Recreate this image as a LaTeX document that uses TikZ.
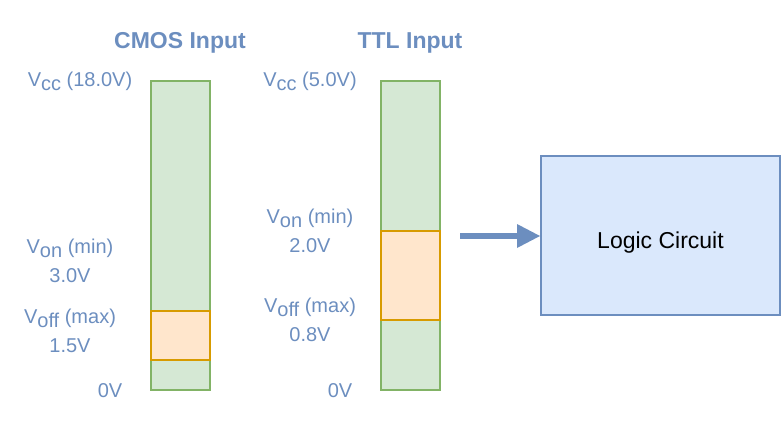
\documentclass[tikz,border=0pt]{standalone}
\usepackage{fontspec}
\setmainfont{Liberation Sans}
\usetikzlibrary{arrows.meta}
\definecolor{lvltext}{HTML}{6C8EBF}
\definecolor{highfill}{HTML}{D5E8D4}
\definecolor{highline}{HTML}{82B366}
\definecolor{bandfill}{HTML}{FFE6CC}
\definecolor{bandline}{HTML}{D79B00}
\definecolor{boxfill}{HTML}{DAE8FC}
\newcommand{\lvlsub}[1]{\raisebox{-4.5pt}{#1}}
\begin{document}
\begin{tikzpicture}[x=1pt,y=-1pt,
  lbl/.style={text=lvltext,font=\fontsize{20}{29}\selectfont,align=center,anchor=base,inner sep=0pt},
  title/.style={text=lvltext,font=\fontsize{23}{26}\selectfont\bfseries,anchor=base,inner sep=0pt},
  high/.style={fill=highfill,draw=highline,line width=2pt},
  band/.style={fill=bandfill,draw=bandline,line width=2pt}]
  \useasboundingbox (0,0) rectangle (782,431);
  % CMOS levels
  \node[title] (cmos) at (180,48) {CMOS Input};
  \draw[high] (151,81) rectangle (210,390);
  \draw[band] (151,311) rectangle (210,360);
  \node[lbl] (cmosvcc)  at (80,86)  {V\lvlsub{cc} (18.0V)};
  \node[lbl] (cmosvon)  at (70,282) {V\lvlsub{on} (min)\\3.0V};
  \node[lbl] (cmosvoff) at (70,352) {V\lvlsub{off} (max)\\1.5V};
  \node[lbl] (cmoszero) at (110,397) {0V};
  % TTL levels
  \node[title] (ttl) at (410,48) {TTL Input};
  \draw[high] (381,81) rectangle (440,390);
  \draw[band] (381,231) rectangle (440,320);
  \node[lbl] (ttlvcc)  at (310,86)  {V\lvlsub{cc} (5.0V)};
  \node[lbl] (ttlvon)  at (310,252) {V\lvlsub{on} (min)\\2.0V};
  \node[lbl] (ttlvoff) at (310,341) {V\lvlsub{off} (max)\\0.8V};
  \node[lbl] (ttlzero) at (340,397) {0V};
  % circuit
  \node[draw=lvltext,fill=boxfill,line width=2pt,minimum width=239pt,minimum height=159pt,
        font=\fontsize{23}{26}\selectfont,text height=28pt,text depth=1.6pt] (logic) at (660.5,235) {Logic Circuit};
  \coordinate (feed) at (460,236);
  \draw[lvltext,line width=6pt,-{Triangle[length=23pt,width=24pt,line width=0pt]}]
    (feed) -- (feed -| logic.west);
\end{tikzpicture}
\end{document}
